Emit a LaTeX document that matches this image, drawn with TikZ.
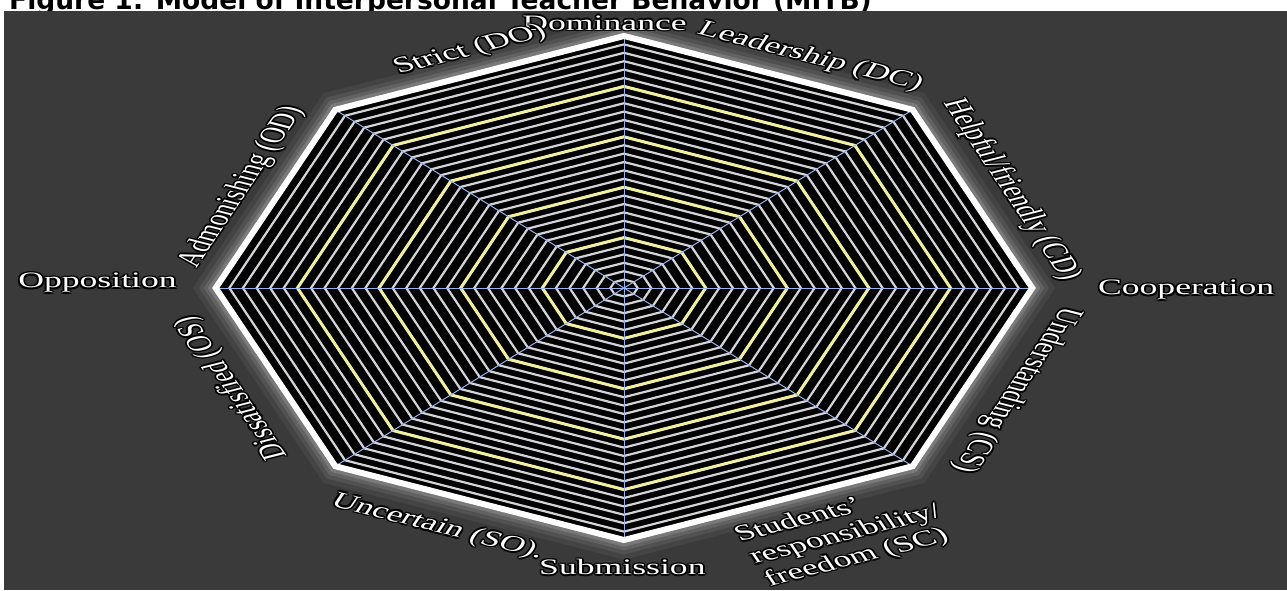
\documentclass[tikz,border=0pt]{standalone}
\usepackage{fontspec}
\setmainfont{Liberation Serif}
\newfontfamily\titlefont{DejaVu Sans}
\usetikzlibrary{calc}
\definecolor{bg}{RGB}{58,58,58}
\definecolor{ringc}{RGB}{212,212,216}
\definecolor{yel}{RGB}{242,240,160}
\definecolor{spokec}{RGB}{150,180,235}
\tikzset{
  lbltext/.style={text=white, font=\fontsize{22}{24}\selectfont, inner sep=0pt, transform shape, align=left},
  lblshadow/.style={text=black, font=\fontsize{22}{24}\selectfont, inner sep=0pt, transform shape, align=left},
  ringline/.style={draw=ringc, line width=2.2pt, line join=miter},
  yelline/.style={draw=yel, line width=3pt, line join=miter},
  outerline/.style={draw=white, line width=6pt, line join=miter},
  spokeline/.style={draw=spokec, line width=1pt},
  glowline/.style={draw=white, line join=miter},
}
\newcommand\lbl[4]{%
  \foreach \dx/\dy in {1.1/0,-1.1/0,0/1.5,0/-1.5,0.8/1.1,-0.8/1.1,0.8/-1.1,-0.8/-1.1}{%
    \node[lblshadow, rotate=#3] at ($(#2)+(\dx,\dy)$) {#4};}%
  \node[lbltext, rotate=#3] (#1) at (#2) {#4};}
\begin{document}
\begin{tikzpicture}[x=1pt,y=1pt]
\useasboundingbox (0,0) rectangle (1287,590);
\fill[white] (0,0) rectangle (1287,590);
\begin{scope}
\clip (0,0) rectangle (1287,590);
\node[anchor=base west, inner sep=0pt, font=\titlefont\bfseries\fontsize{26.5}{30}\selectfont] (title) at (9,580) {Figure 1: Model of Interpersonal Teacher Behavior (MITB)};
\end{scope}
\fill[bg] (4,0) rectangle (1287,579);
\begin{scope}[shift={(624,302)}, xscale=1.62]
  % glow
  \foreach \w/\o in {38/0.05,28/0.07,20/0.1,13/0.15}{
    \draw[glowline, line width=\w pt, opacity=\o] (0:252) \foreach \a in {45,90,...,315}{-- (\a:252)} -- cycle;
  }
  \fill[black] (0:252) \foreach \a in {45,90,...,315}{-- (\a:252)} -- cycle;
  % rings
  \foreach \k in {1,...,29}{
    \pgfmathsetmacro\r{252*\k/30}
    \draw[ringline] (0:\r) \foreach \a in {45,90,...,315}{-- (\a:\r)} -- cycle;
  }
  \foreach \k in {6,12,18,24}{
    \pgfmathsetmacro\r{252*\k/30}
    \draw[yelline] (0:\r) \foreach \a in {45,90,...,315}{-- (\a:\r)} -- cycle;
  }
  % spokes
  \coordinate (c) at (0,0);
  \foreach \a in {0,45,...,315}{ \coordinate (v\a) at (\a:252); }
  \foreach \a in {0,45,...,315}{ \draw[spokeline] (c) -- (v\a); }
  \draw[outerline] (v0) -- (v45) -- (v90) -- (v135) -- (v180) -- (v225) -- (v270) -- (v315) -- cycle;
  % labels
  \lbl{dom}{-12,265}{0}{Dominance}
  \lbl{lead}{115,231}{-22.5}{Leadership (DC)}
  \lbl{strict}{-95,238}{22.5}{Strict (DO)}
  \lbl{help}{239,98}{-67.5}{Helpful/friendly (CD)}
  \lbl{adm}{-236,101}{67.5}{Admonishing (OD)}
  \lbl{opp}{-325,5}{0}{Opposition}
  \lbl{coop}{347,-2}{0}{Cooperation}
  \lbl{und}{242,-102}{-112.5}{Understanding (CS)}
  \lbl{dis}{-242,-100}{112.5}{Dissatisfied (OS)}
  \lbl{stud}{137,-247}{22.5}{Students'\\ responsibility/\\ freedom (SC)}
  \lbl{unc}{-115,-239}{-22.5}{Uncertain (SO).}
  \lbl{sub}{-1,-279}{0}{Submission}
\end{scope}
\end{tikzpicture}
\end{document}
